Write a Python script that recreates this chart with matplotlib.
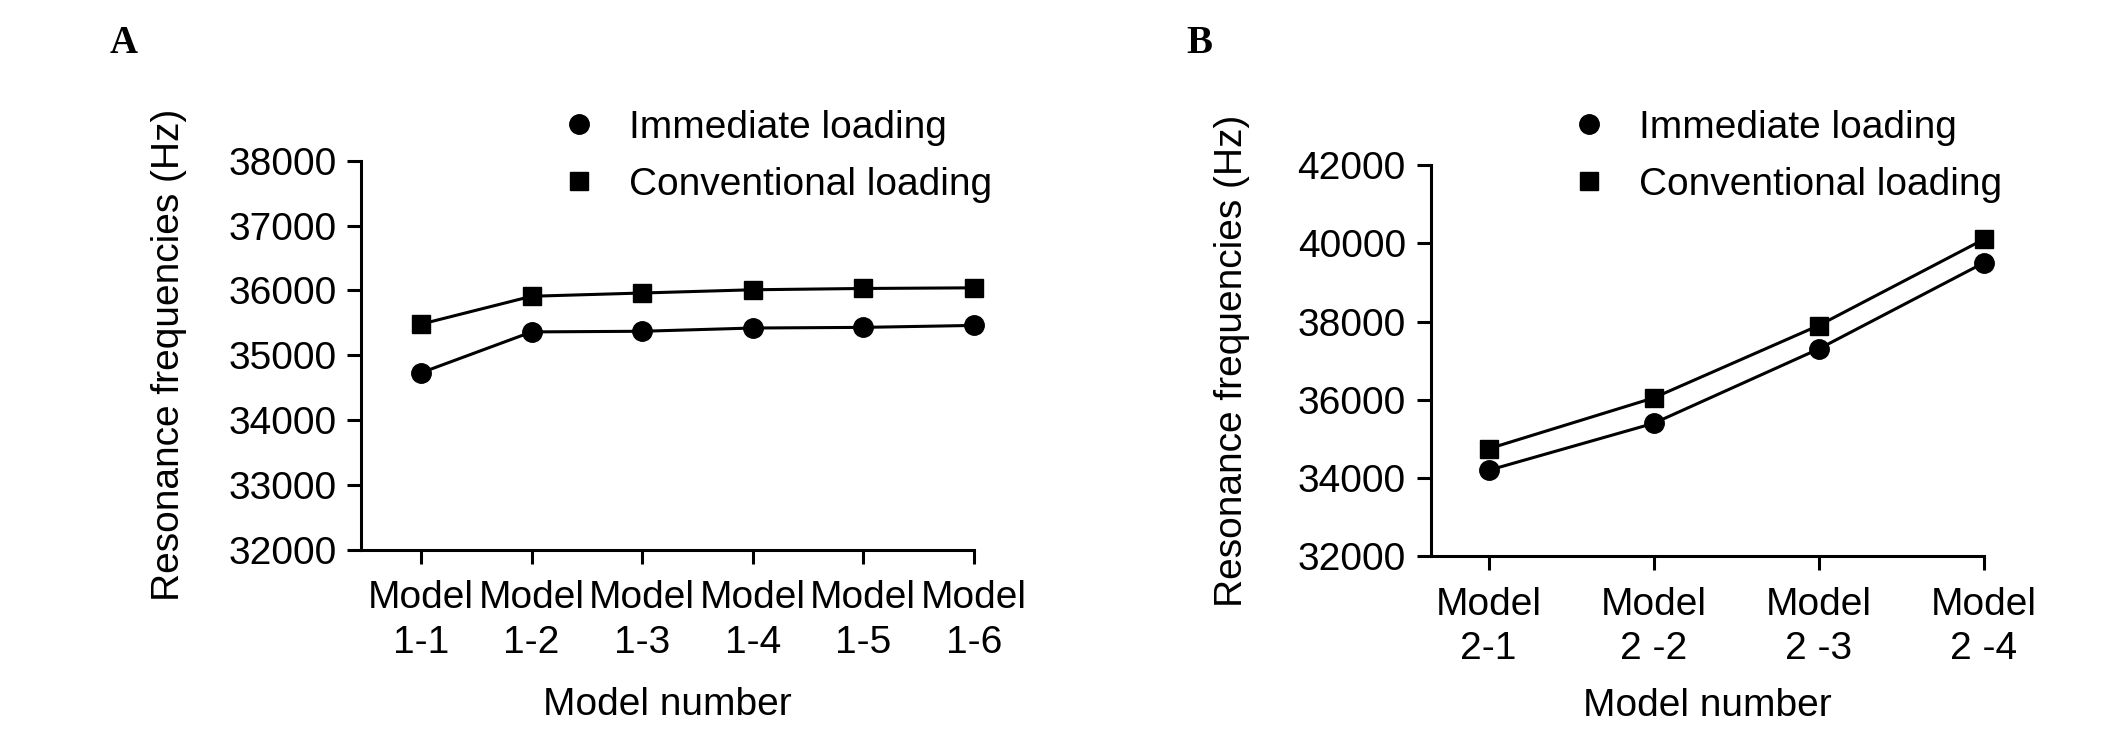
import matplotlib
matplotlib.use("Agg")
import matplotlib.pyplot as plt
from matplotlib.lines import Line2D

plt.rcParams['font.family'] = ['Liberation Sans', 'DejaVu Sans']

# panel A
models_a = ["Model\n1-1", "Model\n1-2", "Model\n1-3", "Model\n1-4", "Model\n1-5", "Model\n1-6"]
immediate_a = [34730, 35360, 35370, 35420, 35430, 35460]
conventional_a = [35480, 35910, 35960, 36010, 36030, 36040]
yticks_a = [32000, 33000, 34000, 35000, 36000, 37000, 38000]

# panel B
models_b = ["Model\n2-1", "Model\n2 -2", "Model\n2 -3", "Model\n2 -4"]
immediate_b = [34200, 35400, 37300, 39500]
conventional_b = [34750, 36050, 37900, 40100]
yticks_b = [32000, 34000, 36000, 38000, 40000, 42000]

FS = 28


def style_axes(ax, labels, yticks, left_pad, xpad, ypad):
    ax.spines['top'].set_visible(False)
    ax.spines['right'].set_visible(False)
    ax.spines['left'].set_linewidth(2.2)
    ax.spines['bottom'].set_linewidth(2.2)
    ax.set_xticks(range(len(labels)))
    ax.set_xticklabels(labels, fontsize=FS, linespacing=1.3)
    ax.set_yticks(yticks)
    ax.set_yticklabels([str(t) for t in yticks], fontsize=FS)
    ax.set_xlim(-left_pad, len(labels) - 1)
    ax.set_ylim(yticks[0], yticks[-1])
    ax.tick_params(axis='both', length=10, width=2.2, direction='out', pad=8)
    ax.tick_params(axis='x', pad=12)
    ax.set_xlabel("Model number", fontsize=FS, labelpad=xpad)
    ax.set_ylabel("Resonance frequencies (Hz)", fontsize=FS, labelpad=ypad)


def draw(ax, immediate, conventional):
    x = range(len(immediate))
    ax.plot(x, immediate, color='black', lw=2.2, marker='o', markersize=14, clip_on=False)
    ax.plot(x, conventional, color='black', lw=2.2, marker='s', markersize=13, clip_on=False)


fig = plt.figure(figsize=(21.26, 7.34), dpi=100)

ax_a = fig.add_axes([0.170, 0.251, 0.288, 0.530])
draw(ax_a, immediate_a, conventional_a)
style_axes(ax_a, models_a, yticks_a, 0.54, 19, 30)

ax_b = fig.add_axes([0.673, 0.242, 0.260, 0.533])
draw(ax_b, immediate_b, conventional_b)
style_axes(ax_b, models_b, yticks_b, 0.35, 15, 34)

handles = [
    Line2D([], [], color='black', marker='o', linestyle='none', markersize=14),
    Line2D([], [], color='black', marker='s', linestyle='none', markersize=13),
]
names = ["Immediate loading", "Conventional loading"]
for xpos in [0.2466, 0.7216]:
    fig.legend(handles, names, loc='upper left', bbox_to_anchor=(xpos, 0.872),
               frameon=False, fontsize=FS, handletextpad=0.3, labelspacing=0.55,
               borderaxespad=0)

fig.text(0.058, 0.941, "A", fontsize=28, fontweight='bold', family='Liberation Serif',
         ha='center', va='center')
fig.text(0.564, 0.941, "B", fontsize=28, fontweight='bold', family='Liberation Serif',
         ha='center', va='center')

fig.savefig("out.png", dpi=100)
